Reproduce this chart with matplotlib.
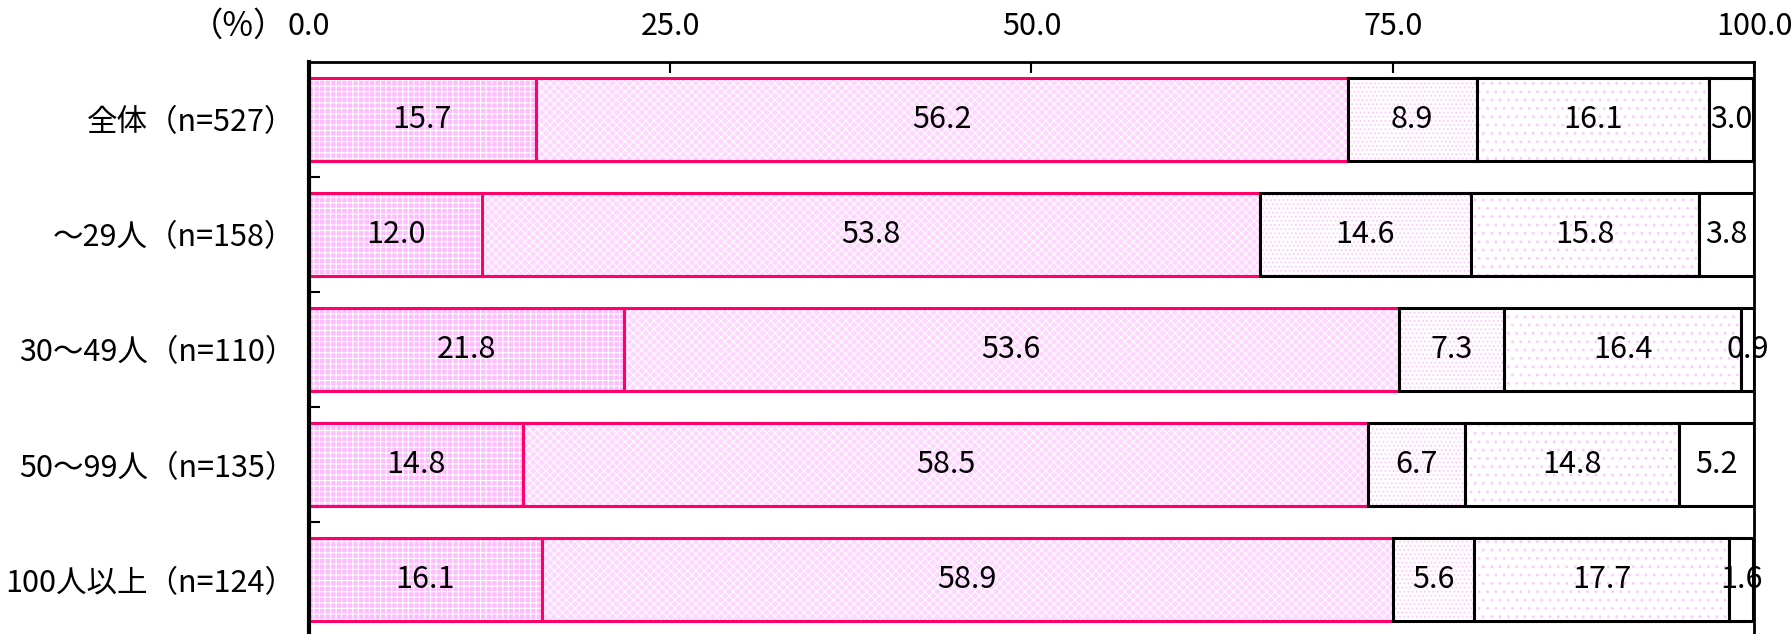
import matplotlib
matplotlib.use('Agg')
import matplotlib.pyplot as plt
import numpy as np

plt.rcParams['font.family'] = ['Noto Sans CJK JP', 'DejaVu Sans']
plt.rcParams['hatch.linewidth'] = 0.8

# 回答区分ごとの割合(%)
categories = ['全体（n=527）', '～29人（n=158）', '30～49人（n=110）',
              '50～99人（n=135）', '100人以上（n=124）']
s1 = [15.7, 12.0, 21.8, 14.8, 16.1]
s2 = [56.2, 53.8, 53.6, 58.5, 58.9]
s3 = [8.9, 14.6, 7.3, 6.7, 5.6]
s4 = [16.1, 15.8, 16.4, 14.8, 17.7]
s5 = [3.0, 3.8, 0.9, 5.2, 1.6]
xticks = [0, 25, 50, 75, 100]

series = [s1, s2, s3, s4, s5]
# face, hatch colour, hatch, edge
styles = [
    ('#ffbdff', 'white', '+++', '#ff0066'),
    ('#ffd6ff', 'white', 'xxxx', '#ff0066'),
    ('white', '#ffc8ff', '....', 'black'),
    ('white', '#ffc8ff', '..', 'black'),
    ('white', 'white', '', 'black'),
]

fig = plt.figure(figsize=(17.92, 6.34), dpi=100)
ax = fig.add_axes([0.1724, -0.005, 0.8064, 0.9075])

y = np.arange(len(categories))
left = np.zeros(len(categories))
for vals, (fc, hc, hatch, ec) in zip(series, styles):
    vals = np.array(vals)
    ax.barh(y, vals, left=left, height=0.72, color=fc, edgecolor=hc,
            hatch=hatch, linewidth=0)
    ax.barh(y, vals, left=left, height=0.72, color='none', edgecolor=ec,
            linewidth=2.2)
    for yi, l, v in zip(y, left, vals):
        ax.text(l + v / 2, yi, f'{v:.1f}', ha='center', va='center',
                fontsize=22, color='black')
    left = left + vals

ax.set_xlim(0, 100)
ax.set_ylim(4.5, -0.5)
ax.xaxis.tick_top()
ax.set_xticks(xticks)
ax.set_xticklabels([f'{t:.1f}' for t in xticks], fontsize=22)
ax.tick_params(axis='x', direction='in', length=8, width=1.5, pad=14)

ax.set_yticks(y)
ax.set_yticklabels(categories, fontsize=22)
ax.tick_params(axis='y', which='major', length=0, pad=10)
ax.set_yticks(np.arange(0.5, 4.5, 1), minor=True)
ax.tick_params(axis='y', which='minor', direction='in', length=8, width=1.5)

for side in ['top', 'right']:
    ax.spines[side].set_linewidth(2)
ax.spines['left'].set_linewidth(3)
ax.spines['bottom'].set_visible(False)

fig.text(0.133, 0.958, '（%）', fontsize=24, ha='center', va='center')

fig.savefig('out.png', dpi=100)
